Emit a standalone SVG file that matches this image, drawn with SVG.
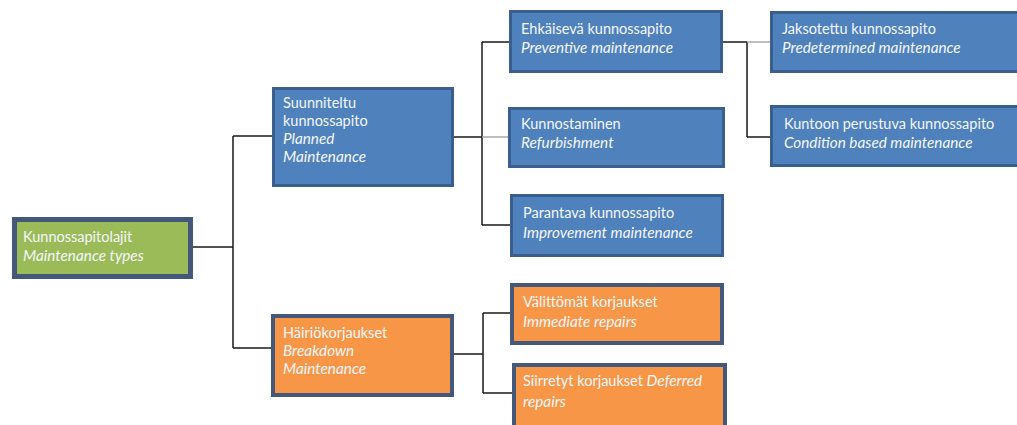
<svg xmlns="http://www.w3.org/2000/svg" width="1017" height="425" viewBox="0 0 1017 425">
<style>
.t{font-family:Lato,"Liberation Sans",sans-serif;font-size:14.5px;fill:#f4f6fa}
.i{font-style:italic;font-size:15.3px}
.blue{fill:#4f81bd;stroke:#3a5f8e;stroke-width:3}
.orange{fill:#f79646;stroke:#44587a;stroke-width:4}
.green{fill:#9bbb59;stroke:#44587a;stroke-width:5}
.c{fill:none;stroke:#1a1a1a;stroke-width:1.5}
.g{fill:none;stroke:#a8a8a8;stroke-width:1.5}
</style>
<rect width="1017" height="425" fill="#ffffff"/>
<g id="connectors">
<path class="c" d="M193 247H233M233 136V348M233 136H272M233 348H272"/>
<path class="c" d="M454 137H482M482 42V225M482 42H510M482 225H511"/>
<path class="g" d="M482 137H509"/>
<path class="c" d="M454 354H483M483 313V393M483 313H511M483 393H513"/>
<path class="c" d="M722 42H747M747 42V137M747 137H771"/>
<path class="g" d="M747 42H771"/>
</g>
<g id="root">
<rect class="green" x="14.5" y="219.5" width="176" height="57"/>
<text class="t" x="23" y="242">Kunnossapitolajit</text>
<text class="t i" x="23" y="261">Maintenance types</text>
</g>
<g id="planned">
<rect class="blue" x="273.5" y="88.5" width="179" height="97"/>
<text class="t" x="283" y="108">Suunniteltu</text>
<text class="t" x="283" y="126">kunnossapito</text>
<text class="t i" x="283" y="144">Planned</text>
<text class="t i" x="283" y="162">Maintenance</text>
</g>
<g id="breakdown">
<rect class="orange" x="273" y="316" width="179" height="79"/>
<text class="t" x="283" y="338">Häiriökorjaukset</text>
<text class="t i" x="283" y="356">Breakdown</text>
<text class="t i" x="283" y="374">Maintenance</text>
</g>
<g id="preventive">
<rect class="blue" x="510.5" y="11.5" width="211" height="60"/>
<text class="t" x="521" y="34">Ehkäisevä kunnossapito</text>
<text class="t i" x="521" y="53">Preventive maintenance</text>
</g>
<g id="refurbishment">
<rect class="blue" x="509.5" y="108.5" width="214" height="58"/>
<text class="t" x="521" y="129">Kunnostaminen</text>
<text class="t i" x="521" y="148">Refurbishment</text>
</g>
<g id="improvement">
<rect class="blue" x="511.5" y="195.5" width="211" height="60"/>
<text class="t" x="523" y="218">Parantava kunnossapito</text>
<text class="t i" x="523" y="238">Improvement maintenance</text>
</g>
<g id="immediate">
<rect class="orange" x="512" y="285" width="210" height="58"/>
<text class="t" x="523" y="307">Välittömät korjaukset</text>
<text class="t i" x="523" y="327">Immediate repairs</text>
</g>
<g id="deferred">
<rect class="orange" x="514" y="365" width="211" height="62"/>
<text class="t" x="523" y="386">Siirretyt korjaukset <tspan class="i">Deferred</tspan></text>
<text class="t i" x="523" y="407">repairs</text>
</g>
<g id="predetermined">
<rect class="blue" x="771.5" y="12.5" width="250" height="59"/>
<text class="t" x="782" y="34">Jaksotettu kunnossapito</text>
<text class="t i" x="782" y="53">Predetermined maintenance</text>
</g>
<g id="condition">
<rect class="blue" x="771.5" y="106.5" width="250" height="59"/>
<text class="t" x="784" y="129">Kuntoon perustuva kunnossapito</text>
<text class="t i" x="784" y="148">Condition based maintenance</text>
</g>
</svg>
